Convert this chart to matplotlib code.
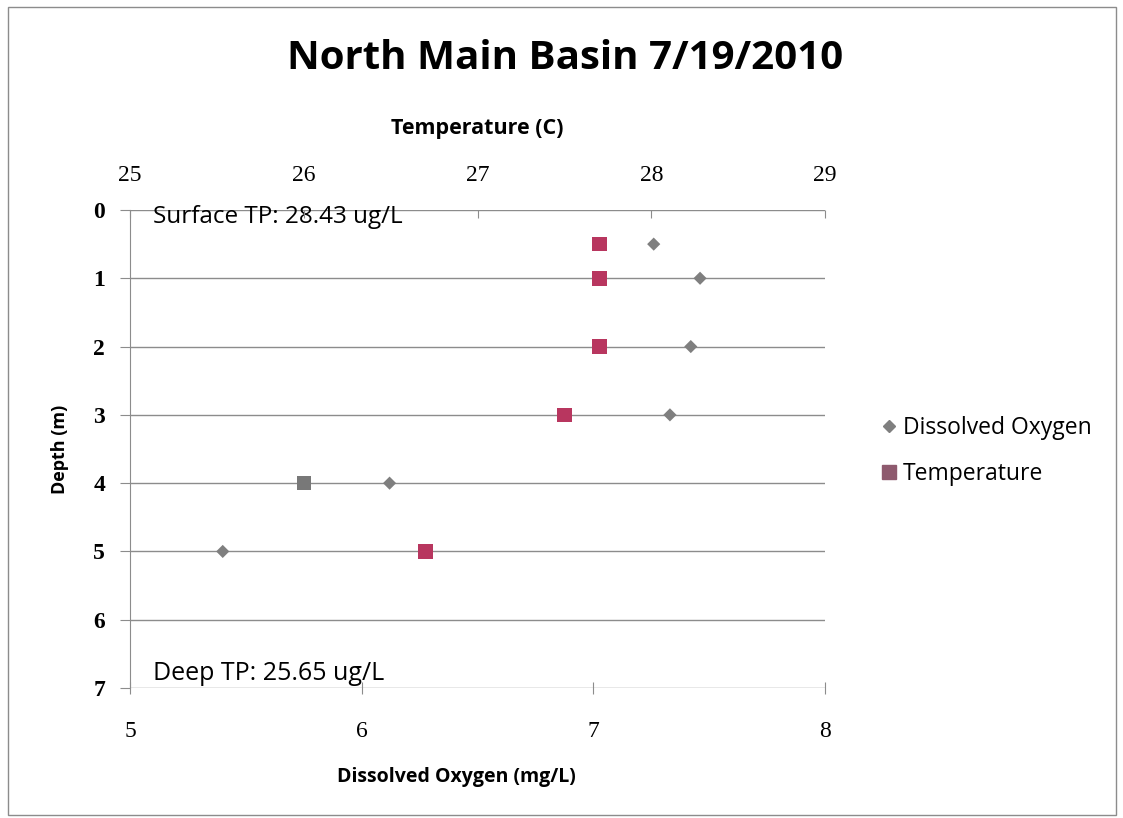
"""North Main Basin depth profile, 7/19/2010: dissolved oxygen and temperature."""

import matplotlib

matplotlib.use("Agg")
import matplotlib.pyplot as plt
from matplotlib.lines import Line2D
from matplotlib.patches import Rectangle

# data
depth_m = [0.5, 1, 2, 3, 4, 5]
dissolved_oxygen = [7.26, 7.46, 7.42, 7.33, 6.12, 5.40]
temperature_c = [27.70, 27.70, 27.70, 27.50, 26.00, 26.70]
do_ticks = [5, 6, 7, 8]
temp_ticks = [25, 26, 27, 28, 29]
depth_ticks = [0, 1, 2, 3, 4, 5, 6, 7]
surface_tp = "Surface TP: 28.43 ug/L"
deep_tp = "Deep TP: 25.65 ug/L"

DO_COLOR = "#7f7f7f"
TEMP_COLOR = "#b8365f"
LABEL_FONT = ["Open Sans", "DejaVu Sans"]
TICK_FONT = ["Liberation Serif", "DejaVu Serif"]

fig = plt.figure(figsize=(11.23, 8.18), dpi=100)
fig.patches.append(Rectangle((0.007, 0.004), 0.987, 0.987, transform=fig.transFigure,
                             fill=False, edgecolor="#8c8c8c", linewidth=1.0))
ax = fig.add_axes([0.1158, 0.1589, 0.619, 0.5844])
ax.set_xlim(do_ticks[0], do_ticks[-1])
ax.set_ylim(depth_ticks[-1], depth_ticks[0])

for d in depth_ticks:
    ax.axhline(d, color="#8c8c8c", linewidth=1.0, zorder=1)

ax.scatter(dissolved_oxygen, depth_m, marker="D", s=45, color=DO_COLOR,
           edgecolors="none", zorder=3)

ax2 = ax.twiny()
ax2.set_xlim(temp_ticks[0], temp_ticks[-1])
temp_colors = [TEMP_COLOR] * len(temperature_c)
temp_colors[4] = "#787878"  # this square came out grey in the original
ax2.scatter(temperature_c, depth_m, marker="s", s=110, c=temp_colors,
            edgecolors="none", zorder=3)

for a in (ax, ax2):
    for side in ("right", "top", "bottom"):
        a.spines[side].set_visible(False)
    a.spines["left"].set_color("#8c8c8c")
ax2.spines["left"].set_visible(False)

ax.set_xticks(do_ticks)
ax.set_yticks(depth_ticks)
ax2.set_xticks(temp_ticks)
ax.tick_params(axis="x", direction="inout", length=8, color="#8c8c8c", pad=20)
ax.tick_params(axis="y", direction="out", length=7, color="#8c8c8c", pad=11)
ax2.tick_params(axis="x", direction="in", length=6, color="#8c8c8c", pad=17)
for lbl in ax.get_xticklabels() + ax.get_yticklabels() + ax2.get_xticklabels():
    lbl.set_fontfamily(TICK_FONT)
    lbl.set_fontsize(17)
for lbl in ax.get_yticklabels():
    lbl.set_fontweight("bold")

ax.set_xlabel("Dissolved Oxygen (mg/L)", fontsize=14, fontweight="bold", family=LABEL_FONT)
ax.xaxis.set_label_coords(0.47, -0.166)
ax.set_ylabel("Depth (m)", fontsize=13, fontweight="bold", family=LABEL_FONT)
ax.yaxis.set_label_coords(-0.088, 0.5)
ax2.set_xlabel("Temperature (C)", fontsize=15.5, fontweight="bold", family=LABEL_FONT)
ax2.xaxis.set_label_coords(0.5, 1.159)

ax.text(0.033, 0.985, surface_tp, transform=ax.transAxes, fontsize=17.5,
        family=LABEL_FONT, va="center", ha="left", zorder=4)
ax.text(0.033, 0.031, deep_tp, transform=ax.transAxes, fontsize=18,
        family=LABEL_FONT, va="center", ha="left", zorder=4)

fig.text(0.503, 0.929, "North Main Basin 7/19/2010", fontsize=29, fontweight="bold",
         family=LABEL_FONT, ha="center", va="center")

handles = [
    Line2D([], [], marker="D", linestyle="none", color=DO_COLOR, markersize=6),
    Line2D([], [], marker="s", linestyle="none", color="#8e5a6e", markersize=10),
]
fig.legend(handles, ["Dissolved Oxygen", "Temperature"], loc="center left",
           bbox_to_anchor=(0.761, 0.449), frameon=False,
           prop={"family": LABEL_FONT, "size": 16.5}, handletextpad=0.0,
           labelspacing=0.95, handlelength=1.2)

fig.savefig("out.png", dpi=100)
